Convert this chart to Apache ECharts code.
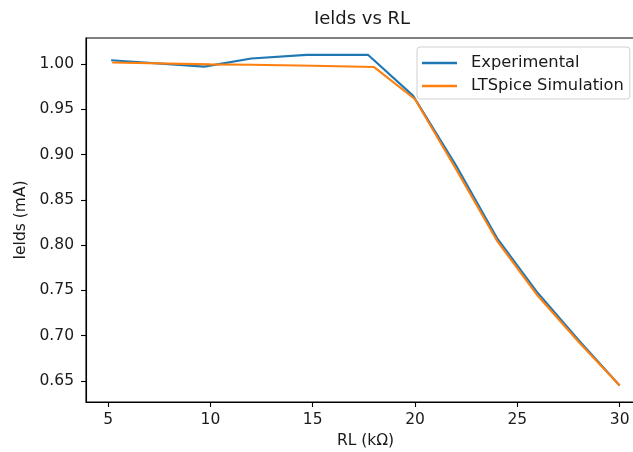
<!DOCTYPE html>
<html>
<head>
<meta charset="utf-8">
<script src="https://cdn.jsdelivr.net/npm/echarts@6/dist/echarts.min.js"></script>
<style>
  html, body { margin: 0; padding: 0; background: #fff; }
  #chart { width: 633px; height: 452px; }
</style>
</head>
<body>
<div id="chart"></div>
<script>
// Measured drain current vs load resistance
const expRL = [5.15, 9.7, 12.0, 14.7, 17.7, 19.9, 22, 24, 26, 28, 30];
const expIds = [1.004, 0.997, 1.006, 1.010, 1.010, 0.965, 0.888, 0.808, 0.747, 0.695, 0.645];

// LTSpice simulated drain current
const simRL = [5.2, 10, 12, 15, 18, 20, 22, 24, 26, 28, 30];
const simIds = [1.0015, 0.9995, 0.999, 0.998, 0.9965, 0.961, 0.884, 0.805, 0.744, 0.693, 0.645];

const xTicks = [5, 10, 15, 20, 25, 30];
const yTicks = [0.65, 0.70, 0.75, 0.80, 0.85, 0.90, 0.95, 1.00];

const FONT = 'DejaVu Sans';
const INK = '#1a1a1a';
const TICK_FS = 15.5;

const chart = echarts.init(document.getElementById('chart'), null, { renderer: 'canvas' });

const pairs = (xs, ys) => xs.map((x, i) => [x, ys[i]]);

chart.setOption({
  animation: false,
  backgroundColor: '#fff',
  title: {
    text: 'Ields vs RL',
    left: 362,
    top: 10,
    textAlign: 'center',
    padding: 0,
    textStyle: { fontFamily: FONT, fontSize: 18, fontWeight: 'normal', color: INK }
  },
  grid: {
    left: 86,
    width: 559,
    top: 38,
    height: 364,
    containLabel: false,
    outerBoundsMode: 'none',
    show: true,
    borderColor: '#000',
    borderWidth: 1.1,
    backgroundColor: 'transparent'
  },
  legend: {
    orient: 'vertical',
    left: 417,
    top: 47,
    padding: [8, 6, 5, 5],
    itemGap: 7,
    itemWidth: 35,
    itemHeight: 2.5,
    icon: 'rect',
    backgroundColor: 'rgba(255,255,255,0.85)',
    borderColor: '#d0d0d0',
    borderWidth: 1,
    borderRadius: 3,
    textStyle: { fontFamily: FONT, fontSize: 16.3, color: INK, padding: [0, 0, 0, 9] },
    data: ['Experimental', 'LTSpice Simulation']
  },
  xAxis: {
    type: 'value',
    min: 3.92,
    max: 31.24,
    name: 'RL (kΩ)',
    nameLocation: 'middle',
    nameGap: 30,
    nameTextStyle: { fontFamily: FONT, fontSize: TICK_FS, color: INK },
    axisLine: { show: true, lineStyle: { color: '#000', width: 1.1 } },
    axisTick: { show: true, length: 5, lineStyle: { color: '#000', width: 1.1 }, customValues: xTicks },
    axisLabel: {
      customValues: xTicks,
      margin: 10,
      fontFamily: FONT, fontSize: TICK_FS, color: INK,
      formatter: v => String(v)
    },
    splitLine: { show: false }
  },
  yAxis: {
    type: 'value',
    min: 0.6267,
    max: 1.0286,
    name: 'Ields (mA)',
    nameLocation: 'middle',
    nameGap: 56,
    nameRotate: 90,
    nameTextStyle: { fontFamily: FONT, fontSize: TICK_FS, color: INK },
    axisLine: { show: true, lineStyle: { color: '#000', width: 1.1 } },
    axisTick: { show: true, length: 5, lineStyle: { color: '#000', width: 1.1 }, customValues: yTicks },
    axisLabel: {
      customValues: yTicks,
      margin: 12,
      fontFamily: FONT, fontSize: TICK_FS, color: INK,
      formatter: v => v.toFixed(2)
    },
    splitLine: { show: false }
  },
  series: [
    {
      name: 'Experimental',
      type: 'line',
      data: pairs(expRL, expIds),
      showSymbol: false,
      symbol: 'none',
      color: '#1f77b4',
      lineStyle: { color: '#1f77b4', width: 2.1 },
      z: 2
    },
    {
      name: 'LTSpice Simulation',
      type: 'line',
      data: pairs(simRL, simIds),
      showSymbol: false,
      symbol: 'none',
      color: '#ff7f0e',
      lineStyle: { color: '#ff7f0e', width: 2.1 },
      z: 3
    }
  ]
});
</script>
</body>
</html>
